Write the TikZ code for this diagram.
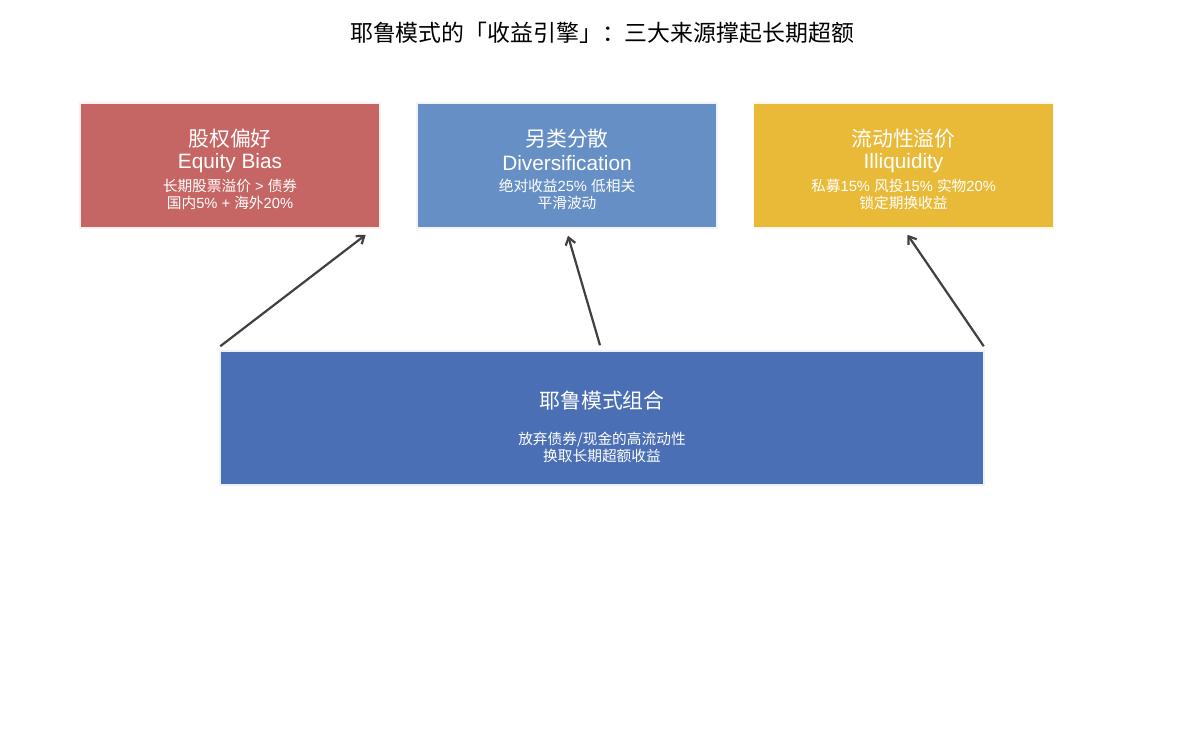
\documentclass[tikz,border=0pt]{standalone}
\usepackage{fontspec}
\setmainfont{Liberation Sans}
\newfontfamily\cjk{Noto Sans CJK SC}
\usetikzlibrary{arrows.meta}
\definecolor{cred}{HTML}{C66664}
\definecolor{cblue}{HTML}{6690C5}
\definecolor{cyel}{HTML}{E9BA38}
\definecolor{cbot}{HTML}{4A6FB5}
\definecolor{carrow}{HTML}{404040}
\tikzset{
  card/.style={minimum width=300pt, minimum height=125pt, line width=1.5pt, inner sep=0pt},
  big/.style={font=\fontsize{20.8}{24}\selectfont, text=white, align=center},
  small/.style={font=\fontsize{14.7}{17}\selectfont, text=white, align=center},
  link/.style={draw=carrow, line width=2.2pt, -{Straight Barb[length=7pt,width=10pt,line width=2.2pt]}}
}
\begin{document}
\begin{tikzpicture}[x=1pt,y=-1pt]
\useasboundingbox (0,0) rectangle (1204,728);
\node[font=\fontsize{22.9}{26}\selectfont] (title) at (602,32.5) {\cjk 耶鲁模式的「收益引擎」：三大来源撑起长期超额};

\node[card, fill=cred, draw=cred!10!white] (red) at (230,165.5) {};
\node[card, fill=cblue, draw=cblue!10!white] (blue) at (567,165.5) {};
\node[card, fill=cyel, draw=cyel!10!white] (yel) at (903.5,165.5) {};
\node[minimum width=764pt, minimum height=134pt, line width=1.5pt, inner sep=0pt, fill=cbot, draw=cbot!10!white] (bot) at (602,418) {};

\node[big] (redt) at (230,139) {\cjk 股权偏好};
\node[big] (rede) at (230,163.5) {Equity Bias};
\node[small] (reds) at (230,194) {{\cjk 长期股票溢价} > {\cjk 债券}\\{\cjk 国内}5\% + {\cjk 海外}20\%};

\node[big] (bluet) at (567,139) {\cjk 另类分散};
\node[big] (bluee) at (567,163.5) {Diversification};
\node[small] (blues) at (567,194) {{\cjk 绝对收益}25\% {\cjk 低相关}\\{\cjk 平滑波动}};

\node[big] (yelt) at (903.5,139) {\cjk 流动性溢价};
\node[big] (yele) at (903.5,163.5) {Illiquidity};
\node[small] (yels) at (903.5,194) {{\cjk 私募}15\% {\cjk 风投}15\% {\cjk 实物}20\%\\{\cjk 锁定期换收益}};

\node[big] (bott) at (602,401) {\cjk 耶鲁模式组合};
\node[small] (bots) at (602,447.5) {\cjk 放弃债券/现金的高流动性\\\cjk 换取长期超额收益};

\coordinate (a1s) at ([shift={(1,-4)}]bot.north west);
\coordinate (a1e) at ([shift={(-15,6)}]red.south east);
\coordinate (a2s) at ([shift={(-2,-5)}]bot.north);
\coordinate (a2e) at ([shift={(1,7)}]blue.south);
\coordinate (a3s) at ([shift={(-1,-4)}]bot.north east);
\coordinate (a3e) at ([shift={(4,6)}]yel.south);
\draw[link] (a1s) -- (a1e);
\draw[link] (a2s) -- (a2e);
\draw[link] (a3s) -- (a3e);
\end{tikzpicture}
\end{document}
